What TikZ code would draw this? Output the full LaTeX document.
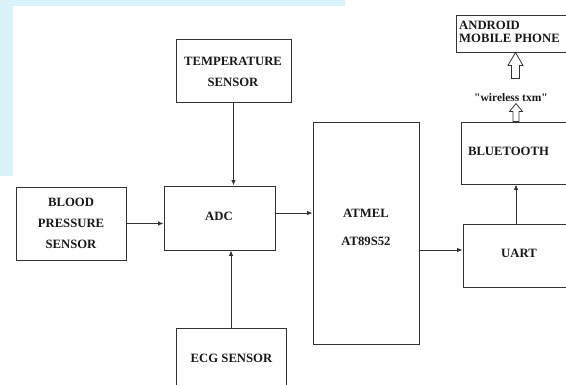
\documentclass[tikz,border=0pt]{standalone}
\usepackage{fontspec}
\setmainfont{Liberation Serif}
\usetikzlibrary{arrows.meta,calc}
\definecolor{linec}{HTML}{333333}
\definecolor{bgcyan}{HTML}{D8F4FA}
\newcommand\straightq{\XeTeXglyph\XeTeXcharglyph 34\relax}
\begin{document}
\begin{tikzpicture}[x=1pt,y=-1pt,
  box/.style={draw=linec, line width=0.9pt, inner sep=0pt, fill=white},
  lbl/.style={font=\bfseries\fontsize{12.7}{21}\selectfont, align=center, inner sep=0pt, text=black!90},
  arr/.style={draw=linec, line width=0.9pt, -{Latex[length=5.5pt,width=4.5pt]}},
  harrow/.style={draw=linec, line width=0.8pt, fill=white, line join=miter}]
\useasboundingbox (0,0) rectangle (566,385);
\clip (0,0) rectangle (566,385);
\fill[white] (0,0) rectangle (566,385);
\fill[bgcyan] (0,0) rectangle (13,176);
\fill[bgcyan] (0,0) rectangle (345,6);

% boxes
\node[box, minimum width=115pt, minimum height=63pt] (temp) at (233.5,70.5) {};
\node[box, minimum width=111pt, minimum height=64pt] (adc) at (219.5,218) {};
\node[box, minimum width=110pt, minimum height=73pt] (bp) at (71,223.5) {};
\node[box, minimum width=110pt, minimum height=65pt] (ecg) at (231,360.5) {};
\node[box, minimum width=106pt, minimum height=222pt] (atmel) at (366,233) {};
\node[box, minimum width=110pt, minimum height=63pt] (uart) at (518,255.5) {};
\node[box, minimum width=114pt, minimum height=62pt] (bt) at (518,153) {};
\node[box, minimum width=124pt, minimum height=37pt] (android) at (518,33.5) {};

% labels
\node[lbl] (tempT) at (233,71.5) {TEMPERATURE\\SENSOR};
\node[lbl] (bpT) at (71,223) {BLOOD\\PRESSURE\\SENSOR};
\node[lbl] (adcT) at (219,216) {ADC};
\node[lbl] (ecgT) at (231.5,358) {ECG SENSOR};
\node[lbl] (atT) at (366,227) {ATMEL\\[7pt]AT89S52};
\node[lbl] (uartT) at (519,253) {UART};
\node[lbl] (btT) at (508.5,151) {BLUETOOTH};
\node[lbl, align=left, anchor=west, font=\bfseries\fontsize{12.7}{13}\selectfont] (andT) at (459,31.5) {ANDROID\\MOBILE PHONE};
\node[lbl, font=\bfseries\fontsize{11.5}{13}\selectfont] (wt) at (511,98) {\straightq wireless txm\straightq};

% connectors
\draw[arr] (temp.south) -- (temp.south |- adc.north);
\draw[arr] (ecg.north) -- (ecg.north |- adc.south);
\draw[arr] (bp.east) -- (bp.east -| adc.west);
\draw[arr] ([yshift=5pt]adc.east) -- ([yshift=5pt]adc.east -| atmel.west);
\draw[arr] ([yshift=5.5pt]uart.west -| atmel.east) -- ([yshift=5.5pt]uart.west);
\draw[arr] ([xshift=-2pt]uart.north) -- ([xshift=-2pt]bt.south);

% hollow arrows
\coordinate (h1) at ([xshift=-2pt,yshift=18pt]bt.north);
\draw[harrow] (h1) -- ++(6.5,8) -- ++(-3.5,0) -- ++(0,10) -- ++(-6,0) -- ++(0,-10) -- ++(-3.5,0) -- cycle;
\coordinate (h2) at ([xshift=-2.5pt]android.south);
\draw[harrow] (h2) -- ++(7.5,13) -- ++(-3.5,0) -- ++(0,13) -- ++(-8,0) -- ++(0,-13) -- ++(-3.5,0) -- cycle;
\end{tikzpicture}
\end{document}
